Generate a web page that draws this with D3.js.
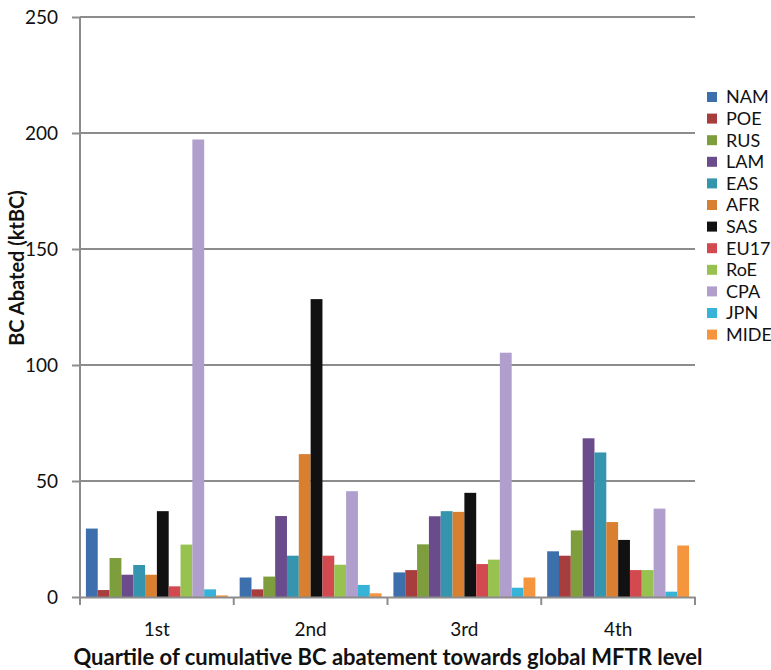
<!DOCTYPE html>
<html><head><meta charset="utf-8">
<script src="https://cdn.jsdelivr.net/npm/d3@7"></script>
<style>body{margin:0;background:#fff;}svg{display:block;font-family:Lato,"Open Sans",sans-serif;}</style>
</head><body>
<svg id="c" width="771" height="670"></svg>
<script>
const quartiles = ["1st","2nd","3rd","4th"];
const regions = ["NAM","POE","RUS","LAM","EAS","AFR","SAS","EU17","RoE","CPA","JPN","MIDE"];
const colors = ["#3d6fad","#a83d3d","#7e9d3d","#6a4c8c","#3595ae","#d98030","#111111","#d24a4f","#98c24f","#b09fcc","#38b3d8","#f5963f"];
const NAM  = [29.5, 8.4, 10.6, 19.7];
const POE  = [3.0, 3.3, 11.6, 17.8];
const RUS  = [16.8, 8.8, 22.7, 28.7];
const LAM  = [9.6, 34.9, 34.8, 68.4];
const EAS  = [13.8, 17.8, 37.0, 62.3];
const AFR  = [9.6, 61.6, 36.7, 32.3];
const SAS  = [37.0, 128.4, 44.9, 24.6];
const EU17 = [4.6, 17.8, 14.2, 11.6];
const RoE  = [22.6, 13.9, 16.1, 11.6];
const CPA  = [197.2, 45.6, 105.3, 38.1];
const JPN  = [3.3, 5.2, 4.0, 2.3];
const MIDE = [0.7, 1.6, 8.4, 22.2];
const seriesValues = [NAM,POE,RUS,LAM,EAS,AFR,SAS,EU17,RoE,CPA,JPN,MIDE];
const yTicks = [0,50,100,150,200,250];

const svg = d3.select("#c");
const L = 80, R = 695, T = 17, B = 597;
const y = d3.scaleLinear().domain([0,250]).range([B,T]);
const x0 = d3.scaleBand().domain(quartiles).range([L,R]).padding(0);
const x1 = d3.scaleBand().domain(regions).range([0,x0.bandwidth()]).paddingInner(0).paddingOuter(0.5);
const color = d3.scaleOrdinal().domain(regions).range(colors);

// gridlines
svg.append("g").selectAll("line").data(yTicks.filter(d=>d>0)).join("line")
  .attr("x1",L).attr("x2",R).attr("y1",d=>y(d)).attr("y2",d=>y(d))
  .attr("stroke","#8c8c8c").attr("stroke-width",2);

// bars
const data = [];
quartiles.forEach((q,qi)=>regions.forEach((r,ri)=>data.push({q,r,v:seriesValues[ri][qi]})));
svg.append("g").selectAll("rect").data(data).join("rect")
  .attr("x",d=>x0(d.q)+x1(d.r)).attr("width",x1.bandwidth())
  .attr("y",d=>y(d.v)).attr("height",d=>y(0)-y(d.v))
  .attr("fill",d=>color(d.r));

// y axis
const yAxis = svg.append("g").attr("transform",`translate(${L},0)`)
  .call(d3.axisLeft(y).tickValues(yTicks).tickSize(8).tickPadding(14));
yAxis.select(".domain").attr("stroke","#8c8c8c").attr("stroke-width",2).attr("d",`M0,${B}V${T}`);
yAxis.selectAll(".tick line").attr("stroke","#8c8c8c").attr("stroke-width",2);
yAxis.selectAll(".tick text").attr("font-size",19).attr("fill","#111").attr("font-family","Lato, sans-serif");

// x axis
const xAxis = svg.append("g").attr("transform",`translate(0,${B})`)
  .call(d3.axisBottom(x0).tickSize(0).tickPadding(26));
xAxis.select(".domain").attr("stroke","#8c8c8c").attr("stroke-width",2);
xAxis.selectAll(".tick text").attr("font-size",19).attr("fill","#111").attr("font-family","Lato, sans-serif");
svg.append("g").selectAll("line").data(d3.range(quartiles.length+1)).join("line")
  .attr("x1",i=>L+i*x0.step()).attr("x2",i=>L+i*x0.step())
  .attr("y1",B).attr("y2",B+8).attr("stroke","#8c8c8c").attr("stroke-width",2);

// titles
svg.append("text").attr("transform","translate(24,268) rotate(-90)")
  .attr("text-anchor","middle").attr("font-weight","bold").attr("font-size",20).attr("fill","#111")
  .text("BC Abated (ktBC)");
svg.append("text").attr("x",388).attr("y",665)
  .attr("text-anchor","middle").attr("font-weight","bold").attr("font-size",22).attr("fill","#111")
  .text("Quartile of cumulative BC abatement towards global MFTR level");

// legend
const lg = svg.append("g").attr("transform","translate(707,97)");
const li = lg.selectAll("g").data(regions).join("g").attr("transform",(d,i)=>`translate(0,${i*21.6})`);
li.append("rect").attr("x",0).attr("y",-5).attr("width",10).attr("height",10).attr("fill",d=>color(d));
li.append("text").attr("x",19).attr("y",0).attr("dy","0.35em").attr("font-size",18).attr("fill","#111").text(d=>d);
</script>
</body></html>
